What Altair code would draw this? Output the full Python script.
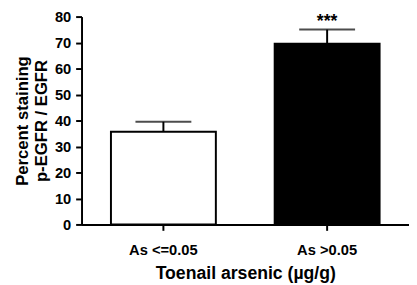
import altair as alt
import pandas as pd

groups = ["As <=0.05", "As >0.05"]
means = [35.7, 69.6]
errors = [3.8, 5.4]
fills = ["white", "black"]
stars = ["", "***"]
y_ticks = [0, 10, 20, 30, 40, 50, 60, 70, 80]

df = pd.DataFrame({
    "group": groups,
    "mean": means,
    "upper": [m + e for m, e in zip(means, errors)],
    "fill": fills,
    "stars": stars,
})

FONT = "Liberation Sans"

x_axis = alt.Axis(
    title="Toenail arsenic (\u00b5g/g)",
    labelAngle=0,
    labelFont=FONT, labelFontSize=15, labelFontWeight="bold", labelColor="black",
    labelPadding=13,
    titleFont=FONT, titleFontSize=18, titleFontWeight="bold", titleColor="black",
    titlePadding=7,
    domainColor="black", domainWidth=2,
    tickColor="black", tickWidth=2, tickSize=6,
)
x_scale = alt.Scale(paddingInner=0, paddingOuter=0)

y_axis = alt.Axis(
    title=["Percent staining", "p-EGFR / EGFR"],
    values=y_ticks,
    labelOverlap=False,
    grid=False,
    labelFont=FONT, labelFontSize=15, labelFontWeight="bold", labelColor="black",
    labelPadding=5,
    titleFont=FONT, titleFontSize=17, titleFontWeight="bold", titleColor="black",
    titleX=-60, titleY=106, titleAlign="center", titleBaseline="middle",
    titleLineHeight=19, titleAngle=270,
    domainColor="black", domainWidth=2,
    tickColor="black", tickWidth=2, tickSize=6,
)
y_scale = alt.Scale(domain=[0, 80], nice=False)


def X():
    return alt.X("group:N", sort=groups, scale=x_scale, axis=x_axis)


def Y(field):
    return alt.Y(field, scale=y_scale, axis=y_axis)


bars = alt.Chart(df).mark_bar(size=107, stroke="black", strokeWidth=2).encode(
    x=X(),
    y=Y("mean:Q"),
    fill=alt.Fill("fill:N", scale=None),
)

err = alt.Chart(df).mark_rule(color="black", strokeWidth=2).encode(
    x=X(),
    y=Y("mean:Q"),
    y2="upper:Q",
)

caps = alt.Chart(df).mark_tick(color="black", thickness=2, size=57).encode(
    x=X(),
    y=Y("upper:Q"),
)

txt = alt.Chart(df).mark_text(
    font=FONT, fontSize=18, fontWeight="bold", color="black", baseline="top", dy=-17
).encode(
    x=X(),
    y=Y("upper:Q"),
    text="stars:N",
)

chart = (
    alt.layer(bars, err, caps, txt)
    .properties(
        width=334,
        height=212,
        autosize=alt.AutoSizeParams(type="none"),
        padding={"left": 75, "top": 6, "right": 0, "bottom": 59},
    )
    .configure_view(stroke=None)
)

chart.save("out.html", embed_options={"renderer": "svg", "actions": False})
